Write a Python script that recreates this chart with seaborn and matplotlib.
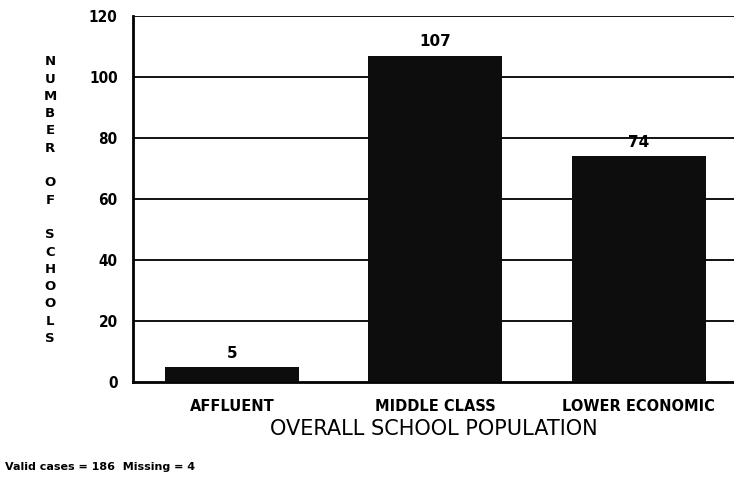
import matplotlib
matplotlib.use("Agg")
import matplotlib.pyplot as plt
import seaborn as sns
import pandas as pd

categories = ["AFFLUENT", "MIDDLE CLASS", "LOWER ECONOMIC"]
schools = [5, 107, 74]
y_ticks = [0, 20, 40, 60, 80, 100, 120]
y_title = "NUMBER OF SCHOOLS"
x_title = "OVERALL SCHOOL POPULATION"
footer = "Valid cases = 186  Missing = 4"

sns.set_style("white")
plt.rcParams['font.family'] = ['DejaVu Sans']
plt.rcParams['text.color'] = 'black'
plt.rcParams['xtick.color'] = 'black'
plt.rcParams['ytick.color'] = 'black'
plt.rcParams['axes.labelcolor'] = 'black'

df = pd.DataFrame({"Population": categories, "Schools": schools})

fig = plt.figure(figsize=(7.34, 4.8), dpi=100)
ax = fig.add_axes([0.181, 0.204, 0.819, 0.763])

sns.barplot(x="Population", y="Schools", data=df, color="#0d0d0d",
            width=0.66, saturation=1, edgecolor="#0d0d0d", linewidth=0,
            ax=ax, zorder=3)

ax.set_ylim(0, 120)
ax.set_xlim(-0.49, 2.47)
ax.set_yticks(y_ticks)
ax.set_yticklabels([str(t) for t in y_ticks], fontsize=11, fontweight="bold",
                   fontstretch="condensed")
ax.set_xticks(range(len(categories)))
ax.set_xticklabels(categories, fontsize=10.5, fontweight="bold")
ax.tick_params(axis="y", direction="out", length=7, width=1.5, color="black", pad=4)
ax.tick_params(axis="x", direction="out", length=4, width=1.2, color="black", pad=8)

for t in y_ticks[1:]:
    ax.axhline(t, color="black", lw=1.3, zorder=1)

for s in ["left", "bottom"]:
    ax.spines[s].set_linewidth(2)
    ax.spines[s].set_color("black")
for s in ["top", "right"]:
    ax.spines[s].set_visible(False)

for i, v in enumerate(schools):
    ax.text(i, v + 2, str(v), ha="center", va="bottom", fontsize=11,
            fontweight="bold")

ax.set_ylabel("")
ax.set_xlabel(x_title, fontsize=15, labelpad=4)

fig.text(0.068, 0.583, "\n".join(y_title), ha="center", va="center",
         fontsize=9.5, fontweight="bold", linespacing=1.43)

fig.text(0.007, 0.028, footer, ha="left", va="center", fontsize=8,
         fontweight="bold")

fig.savefig("out.png", dpi=100)
